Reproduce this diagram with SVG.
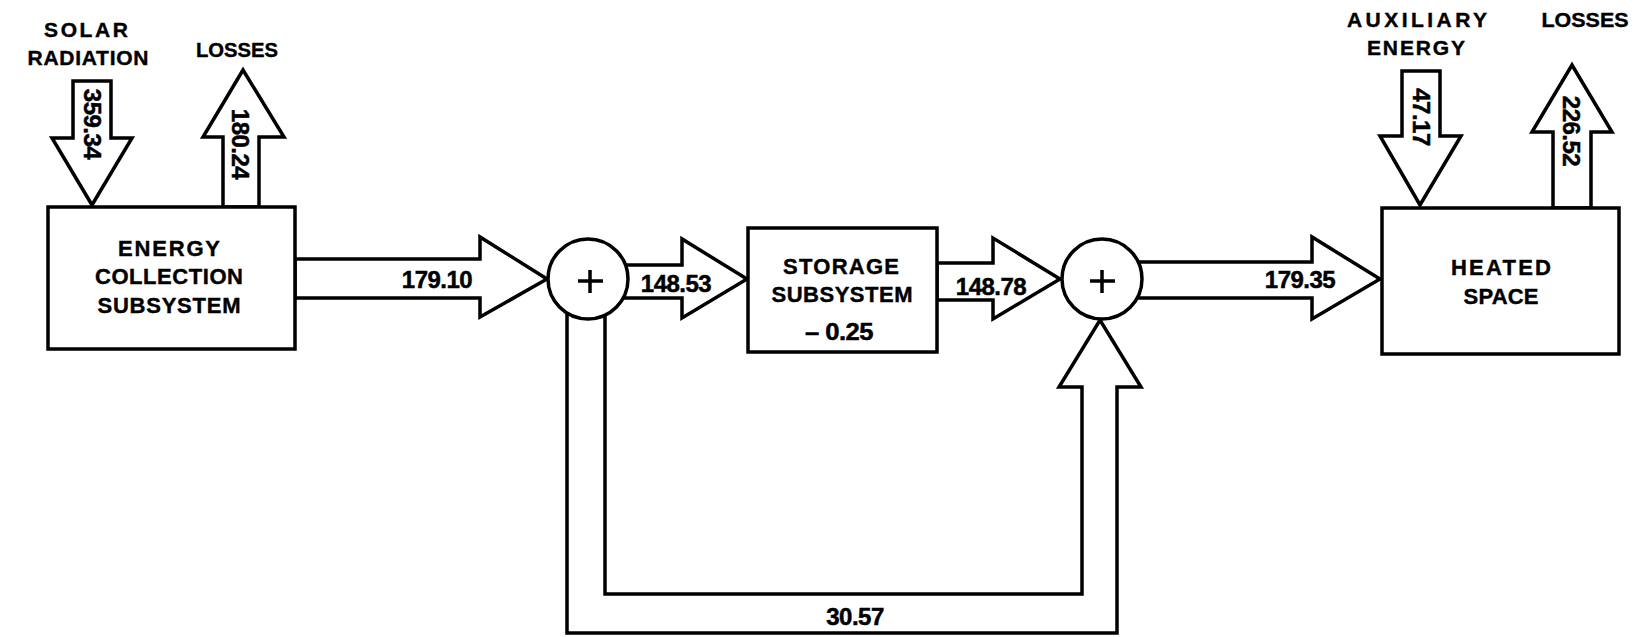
<svg xmlns="http://www.w3.org/2000/svg" width="1644" height="637" viewBox="0 0 1644 637">
<style>
.box{fill:#fff;stroke:#000;stroke-width:3.5}
.arr{fill:#fff;stroke:#000;stroke-width:3.5;stroke-linejoin:miter}
.sum{fill:#fff;stroke:#000;stroke-width:3.5}
.plus{stroke:#000;stroke-width:3.5;fill:none}
.t{font-family:"Liberation Sans",Arial,sans-serif;font-weight:bold;font-size:21px;fill:#000;stroke:#000;stroke-width:0.4;text-anchor:middle}
.b{font-size:22px}
.n{font-family:"Liberation Sans",Arial,sans-serif;font-weight:bold;font-size:24px;fill:#000;stroke:#000;stroke-width:0.5;text-anchor:middle;letter-spacing:-0.5px}
</style>
<rect width="1644" height="637" fill="#fff"/>
<g id="connectors">
  <polygon class="arr" points="73,81 111,81 111,138 132,138 92,205 52,138 73,138"/>
  <polygon class="arr" points="223,207 223,137 203,137 243,70 284,137 259,137 259,207"/>
  <polygon class="arr" points="1402,71 1440,71 1440,136 1461,136 1420,205 1380,136 1402,136"/>
  <polygon class="arr" points="1553,208 1553,132 1532,132 1572,65 1612,132 1591,132 1591,208"/>
  <polygon class="arr" points="295,259 480,259 480,237 547,279 480,317 480,298 295,298"/>
  <polygon class="arr" points="610,265 682,265 682,239 747,279 682,318 682,298 610,298"/>
  <polygon class="arr" points="937,263 993,263 993,238 1060,279 993,319 993,300 937,300"/>
  <polygon class="arr" points="1120,262 1312,262 1312,237 1380,279 1312,319 1312,298 1120,298"/>
  <polygon class="arr" points="567,300 567,633 1117,633 1117,387 1141,387 1100,320 1059,387 1082,387 1082,594 605,594 605,300"/>
</g>
<g id="labels">
  <text class="t" x="86" y="37" textLength="84" lengthAdjust="spacing">SOLAR</text>
  <text class="t" x="88" y="65" textLength="121" lengthAdjust="spacing">RADIATION</text>
  <text class="t" x="237" y="57" textLength="82" lengthAdjust="spacingAndGlyphs">LOSSES</text>
  <text class="t" x="1417" y="27" textLength="140" lengthAdjust="spacing">AUXILIARY</text>
  <text class="t" x="1416" y="55" textLength="98" lengthAdjust="spacing">ENERGY</text>
  <text class="t" x="1585" y="27" textLength="87" lengthAdjust="spacingAndGlyphs">LOSSES</text>
  <text class="n" transform="translate(92,124) rotate(90)" y="8.5">359.34</text>
  <text class="n" transform="translate(240,144) rotate(90)" y="8.5">180.24</text>
  <text class="n" transform="translate(1421,117) rotate(90)" y="8.5">47.17</text>
  <text class="n" transform="translate(1571,131) rotate(90)" y="8.5">226.52</text>
  <text class="n" x="437" y="288">179.10</text>
  <text class="n" x="676" y="292">148.53</text>
  <text class="n" x="991" y="295">148.78</text>
  <text class="n" x="1300" y="288">179.35</text>
  <text class="n" x="855" y="625">30.57</text>
</g>
<g id="energy-collection">
  <rect class="box" x="48" y="207" width="247" height="142"/>
  <text class="t b" x="169" y="256" textLength="102" lengthAdjust="spacing">ENERGY</text>
  <text class="t b" x="169" y="284" textLength="148" lengthAdjust="spacing">COLLECTION</text>
  <text class="t b" x="169" y="313" textLength="143" lengthAdjust="spacing">SUBSYSTEM</text>
</g>
<g id="sum1">
  <circle class="sum" cx="588" cy="279" r="40"/>
  <path class="plus" d="M578,281 H603 M590,270 V293"/>
</g>
<g id="storage">
  <rect class="box" x="748" y="228" width="189" height="124"/>
  <text class="t b" x="841" y="274" textLength="116" lengthAdjust="spacing">STORAGE</text>
  <text class="t b" x="842" y="302" textLength="141" lengthAdjust="spacing">SUBSYSTEM</text>
  <text class="n" x="839" y="340" textLength="68" lengthAdjust="spacingAndGlyphs">– 0.25</text>
</g>
<g id="sum2">
  <circle class="sum" cx="1102" cy="279" r="40"/>
  <path class="plus" d="M1090,281 H1115 M1102,270 V293"/>
</g>
<g id="heated-space">
  <rect class="box" x="1382" y="208" width="237" height="146"/>
  <text class="t b" x="1501" y="275" textLength="100" lengthAdjust="spacing">HEATED</text>
  <text class="t b" x="1501" y="304" textLength="75" lengthAdjust="spacing">SPACE</text>
</g>
</svg>
